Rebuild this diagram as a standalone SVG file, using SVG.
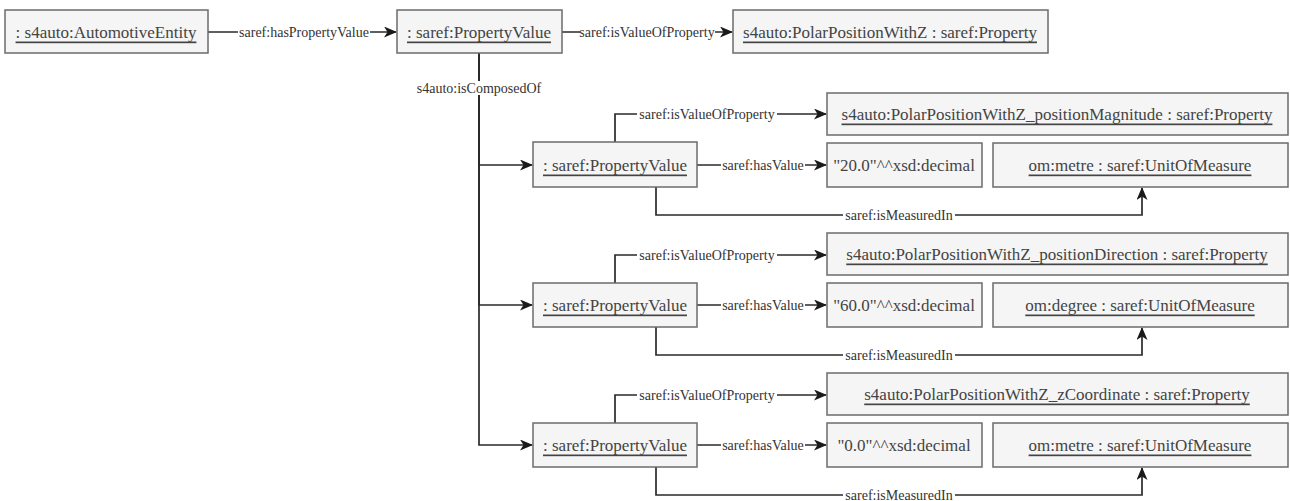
<svg xmlns="http://www.w3.org/2000/svg" width="1290" height="501" viewBox="0 0 1290 501">
  <defs>
    <marker id="arrow" viewBox="0 0 13 11" refX="12" refY="5.5" markerWidth="13" markerHeight="11" markerUnits="userSpaceOnUse" orient="auto">
      <path d="M0,0 L13,5.5 L0,11 L3.5,5.5 Z" fill="#1a1a1a"/>
    </marker>
    <style>
      .box { fill: #f5f5f5; stroke: #6b6b6b; stroke-width: 1.5; }
      .nt { font-family: "Liberation Serif", "Times New Roman", serif; font-size: 17px; fill: #444; text-anchor: middle; dominant-baseline: central; }
      .u { text-decoration: underline; }
      .edge { fill: none; stroke: #2a2a2a; stroke-width: 1.7; }
      .arr { marker-end: url(#arrow); }
      .lbg { fill: #ffffff; }
      .lt { font-family: "Liberation Serif", "Times New Roman", serif; font-size: 14px; fill: #333; text-anchor: middle; dominant-baseline: central; }
    </style>
  </defs>

  <!-- connectors -->
  <g id="connectors">
    <path class="edge arr" d="M208,32 H396"/>
    <path class="edge arr" d="M562,32 H732"/>
    <path class="edge arr" d="M479,53 V165 H532"/>
    <path class="edge arr" d="M479,53 V305 H532"/>
    <path class="edge arr" d="M479,53 V445 H532"/>

    <path class="edge arr" d="M615,142 V114 H826"/>
    <path class="edge arr" d="M697,165 H826"/>
    <path class="edge arr" d="M656,187 V215 H1142 V188"/>

    <path class="edge arr" d="M615,283 V255 H826"/>
    <path class="edge arr" d="M697,305 H826"/>
    <path class="edge arr" d="M656,327 V355 H1142 V328"/>

    <path class="edge arr" d="M615,423 V395 H826"/>
    <path class="edge arr" d="M697,445 H826"/>
    <path class="edge arr" d="M656,467 V495 H1142 V468"/>

    <!-- connector labels -->
    <rect class="lbg" x="238" y="25" width="132" height="14"/>
    <text class="lt" x="304" y="32">saref:hasPropertyValue</text>
    <rect class="lbg" x="580" y="25" width="135" height="14"/>
    <text class="lt" x="647" y="32">saref:isValueOfProperty</text>
    <rect class="lbg" x="415" y="81" width="128" height="14"/>
    <text class="lt" x="479" y="88">s4auto:isComposedOf</text>

    <rect class="lbg" x="637" y="107" width="140" height="14"/>
    <text class="lt" x="707" y="114">saref:isValueOfProperty</text>
    <rect class="lbg" x="721" y="158" width="84" height="14"/>
    <text class="lt" x="763" y="165">saref:hasValue</text>
    <rect class="lbg" x="843" y="208" width="112" height="14"/>
    <text class="lt" x="899" y="215">saref:isMeasuredIn</text>

    <rect class="lbg" x="637" y="248" width="140" height="14"/>
    <text class="lt" x="707" y="255">saref:isValueOfProperty</text>
    <rect class="lbg" x="721" y="298" width="84" height="14"/>
    <text class="lt" x="763" y="305">saref:hasValue</text>
    <rect class="lbg" x="843" y="348" width="112" height="14"/>
    <text class="lt" x="899" y="355">saref:isMeasuredIn</text>

    <rect class="lbg" x="637" y="388" width="140" height="14"/>
    <text class="lt" x="707" y="395">saref:isValueOfProperty</text>
    <rect class="lbg" x="721" y="438" width="84" height="14"/>
    <text class="lt" x="763" y="445">saref:hasValue</text>
    <rect class="lbg" x="843" y="488" width="112" height="13"/>
    <text class="lt" x="899" y="495">saref:isMeasuredIn</text>
  </g>

  <!-- top row -->
  <g id="automotive-entity">
    <rect class="box" x="5" y="10" width="203" height="43"/>
    <text class="nt u" x="106" y="32">: s4auto:AutomotiveEntity</text>
  </g>
  <g id="property-value">
    <rect class="box" x="397" y="10" width="165" height="43"/>
    <text class="nt u" x="479" y="32">: saref:PropertyValue</text>
  </g>
  <g id="polar-position">
    <rect class="box" x="733" y="10" width="315" height="43"/>
    <text class="nt u" x="890" y="32">s4auto:PolarPositionWithZ : saref:Property</text>
  </g>

  <!-- magnitude component -->
  <g id="pv-magnitude">
    <rect class="box" x="533" y="142" width="164" height="45"/>
    <text class="nt u" x="615" y="165">: saref:PropertyValue</text>
  </g>
  <g id="prop-magnitude">
    <rect class="box" x="827" y="93" width="461" height="42"/>
    <text class="nt u" x="1057" y="114">s4auto:PolarPositionWithZ_positionMagnitude : saref:Property</text>
  </g>
  <g id="value-magnitude">
    <rect class="box" x="827" y="143" width="155" height="44"/>
    <text class="nt" x="904" y="165">"20.0"^^xsd:decimal</text>
  </g>
  <g id="unit-magnitude">
    <rect class="box" x="993" y="143" width="295" height="44"/>
    <text class="nt u" x="1140" y="165">om:metre : saref:UnitOfMeasure</text>
  </g>

  <!-- direction component -->
  <g id="pv-direction">
    <rect class="box" x="533" y="283" width="164" height="44"/>
    <text class="nt u" x="615" y="305">: saref:PropertyValue</text>
  </g>
  <g id="prop-direction">
    <rect class="box" x="827" y="233" width="461" height="42"/>
    <text class="nt u" x="1057" y="254">s4auto:PolarPositionWithZ_positionDirection : saref:Property</text>
  </g>
  <g id="value-direction">
    <rect class="box" x="827" y="283" width="155" height="44"/>
    <text class="nt" x="904" y="305">"60.0"^^xsd:decimal</text>
  </g>
  <g id="unit-direction">
    <rect class="box" x="993" y="283" width="295" height="44"/>
    <text class="nt u" x="1140" y="305">om:degree : saref:UnitOfMeasure</text>
  </g>

  <!-- z coordinate component -->
  <g id="pv-z">
    <rect class="box" x="533" y="423" width="164" height="44"/>
    <text class="nt u" x="615" y="445">: saref:PropertyValue</text>
  </g>
  <g id="prop-z">
    <rect class="box" x="827" y="373" width="461" height="42"/>
    <text class="nt u" x="1057" y="394">s4auto:PolarPositionWithZ_zCoordinate : saref:Property</text>
  </g>
  <g id="value-z">
    <rect class="box" x="827" y="423" width="155" height="44"/>
    <text class="nt" x="904" y="445">"0.0"^^xsd:decimal</text>
  </g>
  <g id="unit-z">
    <rect class="box" x="993" y="423" width="295" height="44"/>
    <text class="nt u" x="1140" y="445">om:metre : saref:UnitOfMeasure</text>
  </g>
</svg>
